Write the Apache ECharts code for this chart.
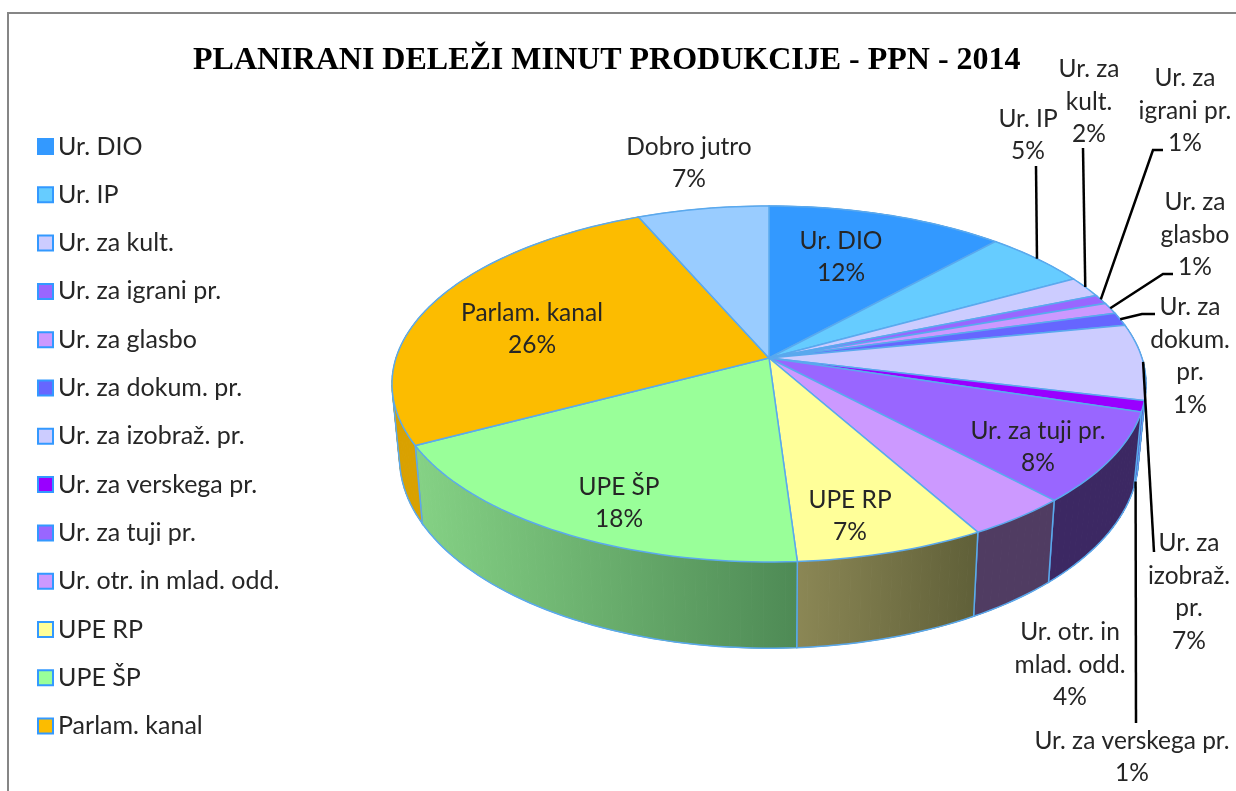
<!DOCTYPE html>
<html>
<head>
<meta charset="utf-8">
<style>
  html, body { margin: 0; padding: 0; background: #fff; }
  #chart { width: 1236px; height: 791px; }
</style>
<script src="https://cdn.jsdelivr.net/npm/echarts@6/dist/echarts.min.js"></script>
</head>
<body>
<div id="chart"></div>
<script>
const chartTitle = 'PLANIRANI DELEŽI MINUT PRODUKCIJE - PPN - 2014';
const categories = ['Ur. DIO', 'Ur. IP', 'Ur. za kult.', 'Ur. za igrani pr.', 'Ur. za glasbo', 'Ur. za dokum. pr.',
  'Ur. za izobraž. pr.', 'Ur. za verskega pr.', 'Ur. za tuji pr.', 'Ur. otr. in mlad. odd.', 'UPE RP', 'UPE ŠP',
  'Parlam. kanal', 'Dobro jutro'];
const values = [11.75, 5.2, 1.9, 0.85, 1.03, 1.2, 6.9, 1.0, 8.25, 3.85, 7.1, 18.3, 26.3, 6.5];
// the original legend runs out of room before the last slice
const legendNames = categories.slice(0, 13);
const labelLines = [
  ['Ur. DIO'], ['Ur. IP'], ['Ur. za', 'kult.'], ['Ur. za', 'igrani pr.'], ['Ur. za', 'glasbo'],
  ['Ur. za', 'dokum.', 'pr.'], ['Ur. za', 'izobraž.', 'pr.'], ['Ur. za verskega pr.'], ['Ur. za tuji pr.'],
  ['Ur. otr. in', 'mlad. odd.'], ['UPE RP'], ['UPE ŠP'], ['Parlam. kanal'], ['Dobro jutro']
];
const topColors = ['#3399ff', '#66ccff', '#ccccff', '#9966ff', '#cc99ff', '#6666ff', '#ccccff', '#9900ff', '#9966ff',
  '#cc99ff', '#ffff99', '#99ff99', '#fcbc00', '#99ccff'];
const wallColors = ['#2a7fd4', '#55aad4', '#aaaad4', '#8055d4', '#aa80d4', '#5555d4', '#504f7a', '#5a00a0', '#3c2863',
  '#503c62', ['#8b8755', '#5f5f38'], ['#85d285', '#4e8a55'], '#d9a100', '#80aad4'];

// hand placed label centres and leader bends, same as in the original chart
const labelPos = [[841, 257], [1028, 135], [1089, 102], [1185, 111], [1195, 235], [1190, 356], [1189, 592], [1132, 757],
  [1038, 447], [1070, 665], [850, 516], [619, 503], [532, 329], [689, 163]];
const leaders = {
  1: { from: [[1036, 166]] },
  2: { from: [[1083, 148]] },
  3: { from: [[1163, 150], [1153, 150]] },
  4: { from: [[1173, 274], [1163, 274]] },
  5: { from: [[1155, 314], [1142, 314]] },
  6: { from: [[1154, 552]] },
  7: { from: [[1136, 723]], toWall: true }
};

// tilted disc: perspective of a circle, near edge looks bigger
const cx = 769, cy = 358, rx = 373, ry = 174.2, persp = 0.146;
const total = values.reduce((a, b) => a + b, 0);

function rimPoint(theta) {
  const u = Math.sin(theta), v = Math.cos(theta), w = 1 + persp * v;
  return [cx + rx * u / w, cy - ry * v / w];
}
function bottomPoint(p) {
  return [cx + (p[0] - cx) * 0.98, p[1] + 78 + 0.07 * (p[1] - 445)];
}
function sliceAngles(i) {
  let sum = 0;
  for (let k = 0; k < i; k++) sum += values[k];
  return [sum / total * Math.PI * 2, (sum + values[i]) / total * Math.PI * 2];
}
function arcPoints(a0, a1) {
  const n = Math.max(2, Math.ceil((a1 - a0) / (Math.PI / 120)));
  const pts = [];
  for (let k = 0; k <= n; k++) pts.push(rimPoint(a0 + (a1 - a0) * k / n));
  return pts;
}

const edgeColor = '#5aa9ee';

function renderTop(i) {
  return function () {
    const [a0, a1] = sliceAngles(i);
    return {
      type: 'polygon',
      shape: { points: [[cx, cy]].concat(arcPoints(a0, a1)) },
      style: { fill: topColors[i], stroke: edgeColor, lineWidth: 1.5 }
    };
  };
}

function renderWall(i) {
  return function () {
    const [a0, a1] = sliceAngles(i);
    const rim = arcPoints(a0, a1);
    const low = rim.map(bottomPoint);
    let fill = wallColors[i];
    if (Array.isArray(fill)) {
      fill = new echarts.graphic.LinearGradient(rim[0][0], 0, rim[rim.length - 1][0], 0, [
        { offset: 0, color: wallColors[i][1] },
        { offset: 1, color: wallColors[i][0] }
      ], true);
    }
    const children = [];
    let first = -1, last = -1;
    for (let k = 0; k < rim.length - 1; k++) {
      children.push({
        type: 'polygon',
        shape: { points: [rim[k], rim[k + 1], low[k + 1], low[k]] },
        style: { fill: fill, stroke: fill, lineWidth: 1 }
      });
      // only the part of the bottom edge that faces the viewer gets an outline
      const dx = low[k][0] - rim[k][0], dy = low[k][1] - rim[k][1];
      const tx = low[k + 1][0] - low[k][0], ty = low[k + 1][1] - low[k][1];
      if (dx * ty - dy * tx > 0) {
        if (first < 0) first = k;
        last = k + 1;
      }
    }
    if (first >= 0) {
      const outline = [rim[first]].concat(low.slice(first, last + 1), [rim[last]]);
      children.push({
        type: 'polyline',
        shape: { points: outline },
        style: { fill: 'none', stroke: edgeColor, lineWidth: 1.5 }
      });
    }
    return { type: 'group', children: children };
  };
}

function renderLabel(params) {
  const i = params.dataIndex;
  const [a0, a1] = sliceAngles(i);
  const children = [{
    type: 'text',
    x: labelPos[i][0],
    y: labelPos[i][1],
    style: {
      text: labelLines[i].concat(Math.round(values[i]) + '%').join('\n'),
      fontFamily: 'Lato',
      fontSize: 24.5,
      lineHeight: 32.5,
      fill: '#262626',
      align: 'center',
      verticalAlign: 'middle'
    }
  }];
  const leader = leaders[i];
  if (leader) {
    let end = rimPoint((a0 + a1) / 2);
    if (leader.toWall) end = bottomPoint(end);
    children.push({
      type: 'polyline',
      shape: { points: leader.from.concat([end]) },
      style: { fill: 'none', stroke: '#000', lineWidth: 2.5 }
    });
  }
  return { type: 'group', children: children };
}

const series = [];
categories.forEach(function (name, i) {
  series.push({
    name: name + ' (rob)',
    type: 'custom',
    coordinateSystem: 'none',
    silent: true,
    z: 2,
    renderItem: renderWall(i),
    data: [values[i]]
  });
});
categories.forEach(function (name, i) {
  series.push({
    name: name,
    type: 'custom',
    coordinateSystem: 'none',
    silent: true,
    z: 3,
    itemStyle: { color: topColors[i] },
    renderItem: renderTop(i),
    data: [values[i]]
  });
});
series.push({
  name: 'oznake',
  type: 'custom',
  coordinateSystem: 'none',
  silent: true,
  z: 4,
  renderItem: renderLabel,
  data: values
});

const myChart = echarts.init(document.getElementById('chart'), null, { renderer: 'canvas' });
myChart.setOption({
  animation: false,
  backgroundColor: '#fff',
  title: {
    text: chartTitle,
    left: 188,
    top: 40,
    textStyle: { fontFamily: 'Liberation Serif', fontWeight: 'bold', fontSize: 32, color: '#000' }
  },
  legend: {
    data: legendNames,
    orient: 'vertical',
    left: 32,
    top: 129,
    icon: 'rect',
    itemWidth: 15,
    itemHeight: 15,
    itemGap: 23.3,
    itemStyle: { borderColor: '#3399ff', borderWidth: 2 },
    selectedMode: false,
    textStyle: { fontFamily: 'Lato', fontSize: 25, color: '#262626', padding: [0, 0, 0, 0] }
  },
  graphic: [{
    type: 'rect',
    silent: true,
    z: -1,
    shape: { x: 8, y: 13, width: 1400, height: 1000 },
    style: { fill: 'none', stroke: '#868686', lineWidth: 2 }
  }],
  series: series
});
</script>
</body>
</html>
